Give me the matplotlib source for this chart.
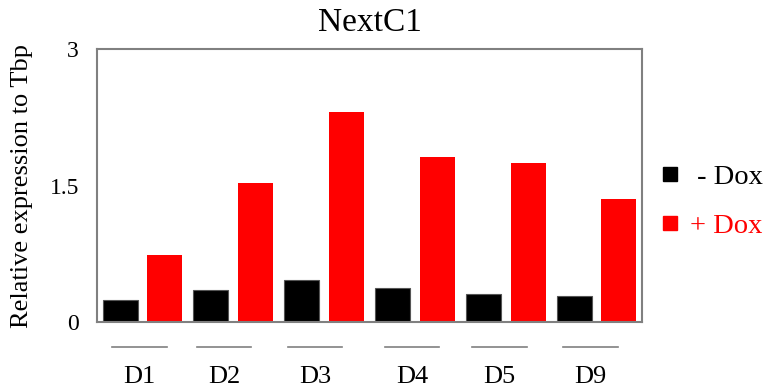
import numpy as np
import matplotlib.pyplot as plt
import matplotlib.transforms as mtransforms
from matplotlib.lines import Line2D

plt.rcParams["font.family"] = ["Liberation Serif", "DejaVu Serif"]

# --------------------------------------------------
# Data
# --------------------------------------------------

days = ["D1", "D2", "D3", "D4", "D5", "D9"]
minus_dox = [0.24, 0.35, 0.46, 0.37, 0.31, 0.29]
plus_dox = [0.74, 1.53, 2.31, 1.81, 1.75, 1.35]
label_shift = [-0.03, -0.10, -0.10, -0.03, -0.07, -0.07]
yticks = [0, 1.5, 3]
ytick_labels = ["0", "1.5", "3"]

fig = plt.figure(figsize=(7.69, 3.89), dpi=100)
ax = fig.add_axes([0.126, 0.172, 0.709, 0.702])

x = np.arange(len(days))
w = 0.385
off = 0.245

ax.bar(x - off, minus_dox, width=w, color="black",
       edgecolor="#555555", linewidth=0.8)
ax.bar(x + off, plus_dox, width=w, color="#ff0000", linewidth=0)

ax.set_xlim(-0.5, len(days) - 0.5)
ax.set_ylim(0, 3)
ax.set_yticks(yticks)
ax.set_yticklabels(ytick_labels, fontsize=17)
ax.tick_params(axis="y", length=0, pad=13)
ax.set_xticks([])

for s in ax.spines.values():
    s.set_color("#808080")
    s.set_linewidth(1.5)

ax.set_ylabel("Relative expression to Tbp", fontsize=19, labelpad=12)
ax.set_title("NextC1", fontsize=24, pad=13)

# group underlines and labels below the axis
trans = mtransforms.blended_transform_factory(ax.transData, ax.transAxes)
for i, (d, sh) in enumerate(zip(days, label_shift)):
    cx = x[i] + sh
    ax.plot([cx - 0.3, cx + 0.3], [-0.092, -0.092], color="#808080",
            linewidth=1.2, transform=trans, clip_on=False)
    ax.text(cx, -0.2, d, transform=trans, ha="center", va="center",
            fontsize=19)

# legend
handles = [
    Line2D([], [], marker="s", linestyle="none", color="black",
           markersize=10),
    Line2D([], [], marker="s", linestyle="none", color="#ff0000",
           markersize=10),
]
fig.legend(handles, [" - Dox", "+ Dox"], loc="center left",
           bbox_to_anchor=(0.857, 0.482), frameon=False, fontsize=20.5,
           labelcolor=["black", "#ff0000"], handletextpad=0.3,
           labelspacing=0.8, handlelength=0.8, borderpad=0,
           borderaxespad=0)

plt.savefig("out.png", dpi=100)
plt.close()
